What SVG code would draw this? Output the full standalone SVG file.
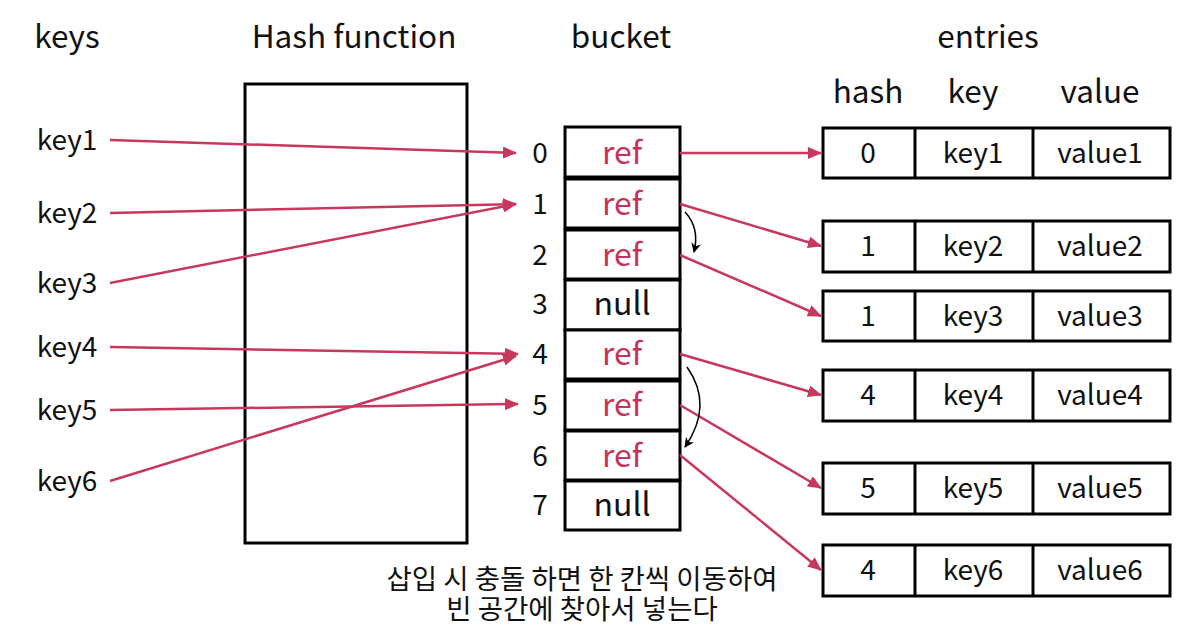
<svg xmlns="http://www.w3.org/2000/svg" width="1194" height="634" viewBox="0 0 1194 634">
<style>
text{font-family:"Noto Sans CJK KR","Noto Sans",sans-serif;fill:#111;text-anchor:middle}
.h{font-size:31.5px}
.c{font-size:28px}
.b{font-size:32px}
.r{fill:#C8325A}
.box{fill:#fff;stroke:#000;stroke-width:3}
.ln{stroke:#C8385E;stroke-width:2.5;fill:none}
.cv{stroke:#000;stroke-width:1.5;fill:none}
.ko{font-size:27.5px}
</style>
<defs>
<marker id="ar" markerWidth="14" markerHeight="12" refX="13" refY="6" orient="auto" markerUnits="userSpaceOnUse">
<path d="M0,0 L14,6 L0,12 Z" fill="#C8385E"/>
</marker>
<marker id="ak" markerWidth="10" markerHeight="10" refX="9" refY="5" orient="auto" markerUnits="userSpaceOnUse">
<path d="M0,0 L10,5 L0,10 L3,5 Z" fill="#000"/>
</marker>
</defs>
<g id="headers">
<text class="h" x="67" y="48">keys</text>
<text class="h" x="354" y="48">Hash function</text>
<text class="h" x="621" y="48">bucket</text>
<text class="h" x="988" y="48">entries</text>
<text class="h" x="868" y="103">hash</text>
<text class="h" x="973" y="103">key</text>
<text class="h" x="1100" y="103">value</text>
</g>
<g id="keys">
<text class="c" x="67" y="150">key1</text>
<text class="c" x="67" y="223">key2</text>
<text class="c" x="67" y="293">key3</text>
<text class="c" x="67" y="357">key4</text>
<text class="c" x="67" y="420">key5</text>
<text class="c" x="67" y="491">key6</text>
</g>
<g id="hash-function">
<rect class="box" x="245" y="84" width="222" height="459"/>
</g>
<g id="bucket">
<rect class="box" x="565" y="127" width="115" height="50"/>
<rect class="box" x="565" y="179" width="115" height="49"/>
<rect class="box" x="565" y="230" width="115" height="49"/>
<rect class="box" x="565" y="280" width="115" height="50"/>
<rect class="box" x="565" y="330" width="115" height="49"/>
<rect class="box" x="565" y="381" width="115" height="49"/>
<rect class="box" x="565" y="431" width="115" height="49"/>
<rect class="box" x="565" y="481" width="115" height="49"/>
<text class="c" x="540" y="163">0</text>
<text class="c" x="540" y="214">1</text>
<text class="c" x="540" y="265">2</text>
<text class="c" x="540" y="314">3</text>
<text class="c" x="540" y="364">4</text>
<text class="c" x="540" y="415">5</text>
<text class="c" x="540" y="466">6</text>
<text class="c" x="540" y="515">7</text>
<text class="b r" x="622" y="164">ref</text>
<text class="b r" x="622" y="215">ref</text>
<text class="b r" x="622" y="266">ref</text>
<text class="b" x="622" y="315">null</text>
<text class="b r" x="622" y="365">ref</text>
<text class="b r" x="622" y="416">ref</text>
<text class="b r" x="622" y="467">ref</text>
<text class="b" x="622" y="516">null</text>
</g>
<g id="entry1">
<rect class="box" x="823" y="128" width="347" height="50"/>
<line x1="915" y1="128" x2="915" y2="178" stroke="#000" stroke-width="3"/>
<line x1="1033" y1="128" x2="1033" y2="178" stroke="#000" stroke-width="3"/>
<text class="c" x="868" y="163">0</text><text class="c" x="973" y="163">key1</text><text class="c" x="1100" y="163">value1</text>
</g>
<g id="entry2">
<rect class="box" x="823" y="221" width="347" height="51"/>
<line x1="915" y1="221" x2="915" y2="272" stroke="#000" stroke-width="3"/>
<line x1="1033" y1="221" x2="1033" y2="272" stroke="#000" stroke-width="3"/>
<text class="c" x="868" y="256">1</text><text class="c" x="973" y="256">key2</text><text class="c" x="1100" y="256">value2</text>
</g>
<g id="entry3">
<rect class="box" x="823" y="291" width="347" height="50"/>
<line x1="915" y1="291" x2="915" y2="341" stroke="#000" stroke-width="3"/>
<line x1="1033" y1="291" x2="1033" y2="341" stroke="#000" stroke-width="3"/>
<text class="c" x="868" y="326">1</text><text class="c" x="973" y="326">key3</text><text class="c" x="1100" y="326">value3</text>
</g>
<g id="entry4">
<rect class="box" x="823" y="370" width="347" height="51"/>
<line x1="915" y1="370" x2="915" y2="421" stroke="#000" stroke-width="3"/>
<line x1="1033" y1="370" x2="1033" y2="421" stroke="#000" stroke-width="3"/>
<text class="c" x="868" y="405">4</text><text class="c" x="973" y="405">key4</text><text class="c" x="1100" y="405">value4</text>
</g>
<g id="entry5">
<rect class="box" x="823" y="463" width="347" height="51"/>
<line x1="915" y1="463" x2="915" y2="514" stroke="#000" stroke-width="3"/>
<line x1="1033" y1="463" x2="1033" y2="514" stroke="#000" stroke-width="3"/>
<text class="c" x="868" y="498">5</text><text class="c" x="973" y="498">key5</text><text class="c" x="1100" y="498">value5</text>
</g>
<g id="entry6">
<rect class="box" x="823" y="545" width="347" height="51"/>
<line x1="915" y1="545" x2="915" y2="596" stroke="#000" stroke-width="3"/>
<line x1="1033" y1="545" x2="1033" y2="596" stroke="#000" stroke-width="3"/>
<text class="c" x="868" y="580">4</text><text class="c" x="973" y="580">key6</text><text class="c" x="1100" y="580">value6</text>
</g>
<g id="connectors">
<line class="ln" x1="110" y1="140" x2="516" y2="153" marker-end="url(#ar)"/>
<line class="ln" x1="110" y1="213" x2="516" y2="204" marker-end="url(#ar)"/>
<line class="ln" x1="110" y1="283" x2="516" y2="204" marker-end="url(#ar)"/>
<line class="ln" x1="110" y1="347" x2="518" y2="354" marker-end="url(#ar)"/>
<line class="ln" x1="110" y1="410" x2="518" y2="404" marker-end="url(#ar)"/>
<line class="ln" x1="110" y1="481" x2="516" y2="356" marker-end="url(#ar)"/>
<line class="ln" x1="680" y1="153" x2="821" y2="153" marker-end="url(#ar)"/>
<line class="ln" x1="680" y1="204" x2="821" y2="246" marker-end="url(#ar)"/>
<line class="ln" x1="680" y1="255" x2="821" y2="316" marker-end="url(#ar)"/>
<line class="ln" x1="680" y1="354" x2="821" y2="395" marker-end="url(#ar)"/>
<line class="ln" x1="680" y1="405" x2="821" y2="488" marker-end="url(#ar)"/>
<line class="ln" x1="680" y1="455" x2="821" y2="570" marker-end="url(#ar)"/>
<path class="cv" d="M685,212 Q700,228 694,252" marker-end="url(#ak)"/>
<path class="cv" d="M687,367 Q714,405 685,447" marker-end="url(#ak)"/>
</g>
<g id="note">
<text class="ko" x="582" y="589">삽입 시 충돌 하면 한 칸씩 이동하여</text>
<text class="ko" x="582" y="619">빈 공간에 찾아서 넣는다</text>
</g>
</svg>
